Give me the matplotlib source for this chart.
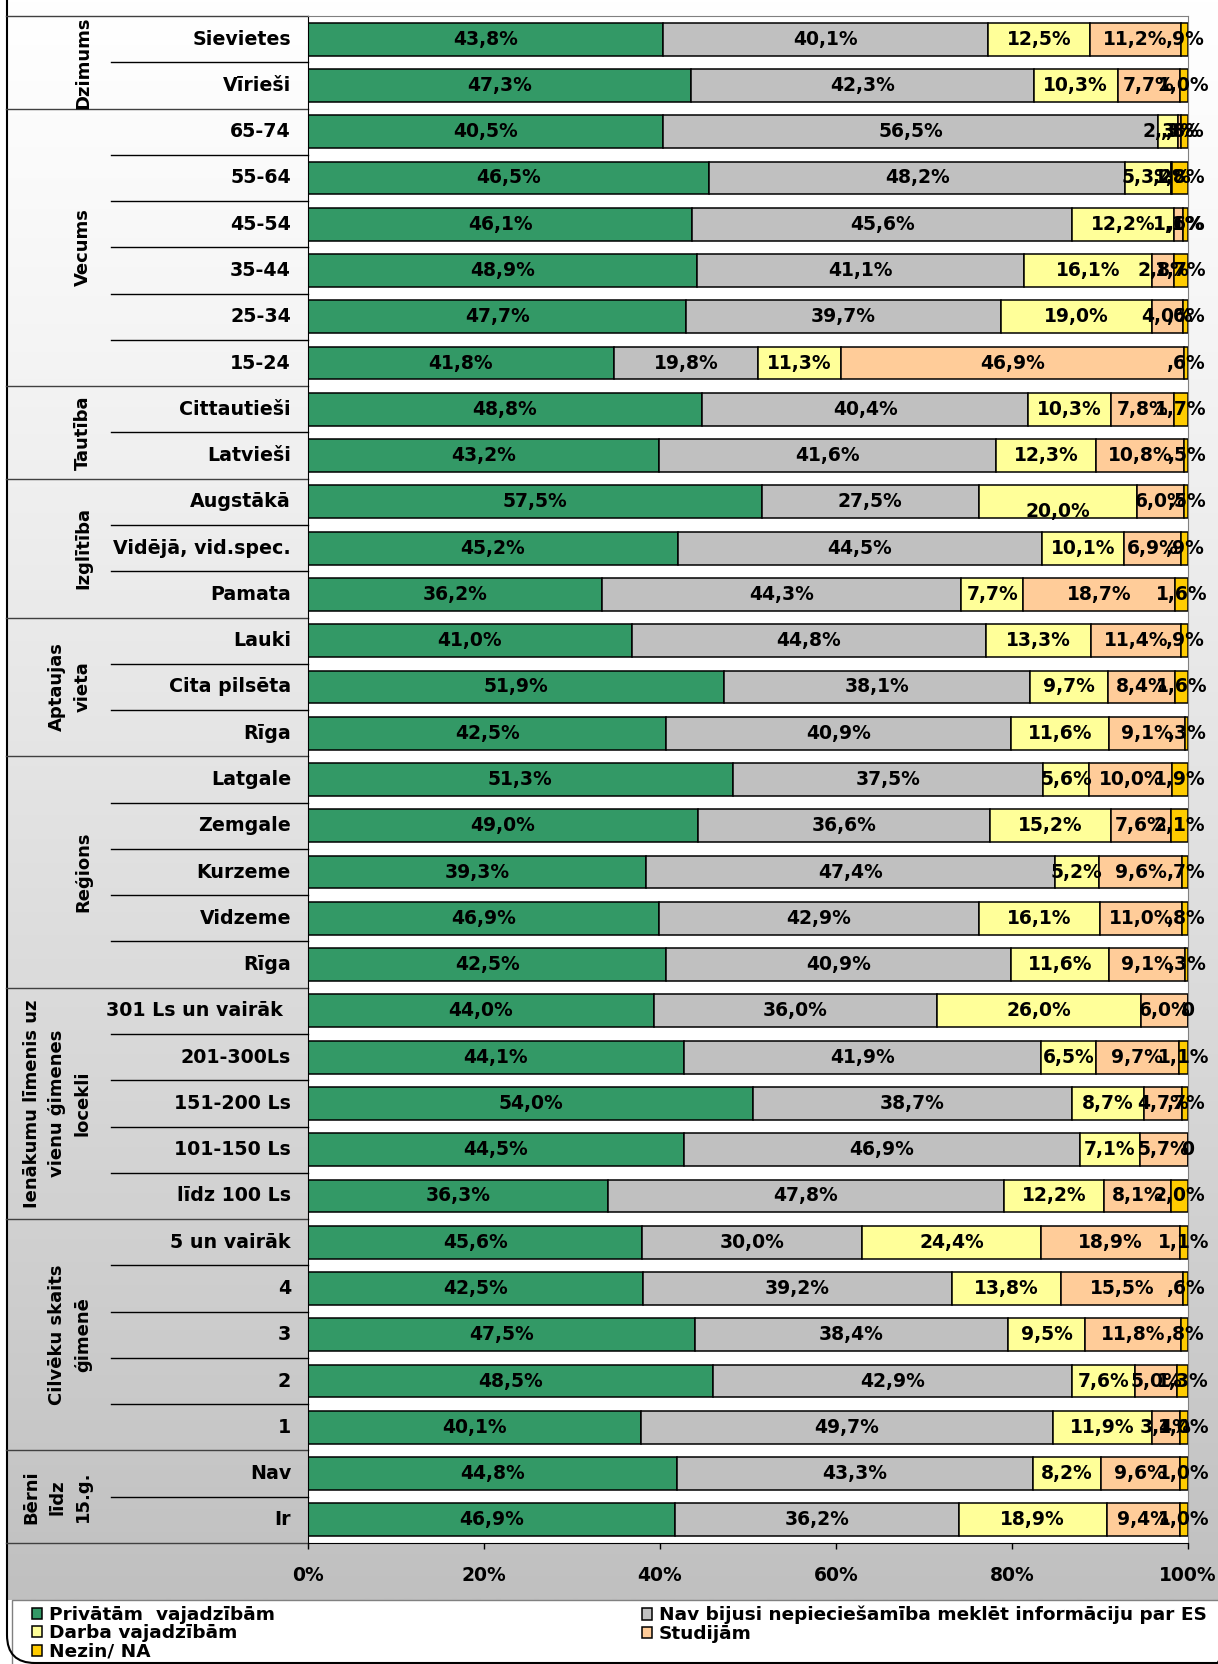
import numpy as np
import matplotlib.pyplot as plt
from matplotlib.patches import Rectangle, FancyBboxPatch
from matplotlib.transforms import blended_transform_factory

plt.rcParams['font.family'] = ['DejaVu Sans']
plt.rcParams['font.weight'] = 'bold'

# series and colours
series = ['Privātām  vajadzībām', 'Nav bijusi nepieciešamība meklēt informāciju par ES',
          'Darba vajadzībām', 'Studijām', 'Nezin/ NA']
colors = ['#339966', '#C0C0C0', '#FFFF99', '#FFCC99', '#FFCC00']

groups = ['Dzimums', 'Vecums', 'Tautība', 'Izglītība', 'Aptaujas\nvieta', 'Reģions',
          'Ienākumu līmenis uz\nvienu ģimenes\nlocekli', 'Cilvēku skaits\nģimenē', 'Bērni\nlīdz\n15.g.']
group_sizes = [2, 6, 2, 3, 3, 5, 5, 5, 2]

categories = ['Sievietes', 'Vīrieši',
              '65-74', '55-64', '45-54', '35-44', '25-34', '15-24',
              'Cittautieši', 'Latvieši',
              'Augstākā', 'Vidējā, vid.spec.', 'Pamata',
              'Lauki', 'Cita pilsēta', 'Rīga',
              'Latgale', 'Zemgale', 'Kurzeme', 'Vidzeme', 'Rīga',
              '301 Ls un vairāk', '201-300Ls', '151-200 Ls', '101-150 Ls', 'līdz 100 Ls',
              '5 un vairāk', '4', '3', '2', '1',
              'Nav', 'Ir']

privatam = [43.8, 47.3, 40.5, 46.5, 46.1, 48.9, 47.7, 41.8, 48.8, 43.2, 57.5, 45.2, 36.2,
            41.0, 51.9, 42.5, 51.3, 49.0, 39.3, 46.9, 42.5, 44.0, 44.1, 54.0, 44.5, 36.3,
            45.6, 42.5, 47.5, 48.5, 40.1, 44.8, 46.9]
nav = [40.1, 42.3, 56.5, 48.2, 45.6, 41.1, 39.7, 19.8, 40.4, 41.6, 27.5, 44.5, 44.3,
       44.8, 38.1, 40.9, 37.5, 36.6, 47.4, 42.9, 40.9, 36.0, 41.9, 38.7, 46.9, 47.8,
       30.0, 39.2, 38.4, 42.9, 49.7, 43.3, 36.2]
darba = [12.5, 10.3, 2.3, 5.3, 12.2, 16.1, 19.0, 11.3, 10.3, 12.3, 20.0, 10.1, 7.7,
         13.3, 9.7, 11.6, 5.6, 15.2, 5.2, 16.1, 11.6, 26.0, 6.5, 8.7, 7.1, 12.2,
         24.4, 13.8, 9.5, 7.6, 11.9, 8.2, 18.9]
studijam = [11.2, 7.7, 0.3, 0.2, 1.1, 2.8, 4.0, 46.9, 7.8, 10.8, 6.0, 6.9, 18.7,
            11.4, 8.4, 9.1, 10.0, 7.6, 9.6, 11.0, 9.1, 6.0, 9.7, 4.7, 5.7, 8.1,
            18.9, 15.5, 11.8, 5.0, 3.4, 9.6, 9.4]
nezin = [0.9, 1.0, 0.8, 1.8, 0.6, 1.7, 0.6, 0.6, 1.7, 0.5, 0.5, 0.9, 1.6,
         0.9, 1.6, 0.3, 1.9, 2.1, 0.7, 0.8, 0.3, 0.0, 1.1, 0.7, 0.0, 2.0,
         1.1, 0.6, 0.8, 1.3, 1.0, 1.0, 1.0]

x_ticks = [0, 20, 40, 60, 80, 100]


def fmt(v):
    if v == 0:
        return '0'
    s = '{:.1f}'.format(v).replace('.', ',')
    if s.startswith('0'):
        s = s[1:]
    return s + '%'


W, H = 1218, 1664
fig = plt.figure(figsize=(W / 100, H / 100), dpi=100)
fig.patch.set_facecolor('white')

# background in pixel coordinates
bg = fig.add_axes([0, 0, 1, 1], zorder=-1)
bg.axis('off')
t = np.linspace(0, 1, 400) ** 1.15
grad = (255 - 63 * t)[:, None] / 255.0
grad = np.repeat(grad[:, :, None], 3, axis=2)
bg.imshow(grad, extent=[7, W + 30, 1600, 0], aspect='auto', interpolation='bilinear')
bg.add_patch(Rectangle((12, 1600), W, 80, facecolor='white', edgecolor='#808080', lw=1))
bg.add_patch(FancyBboxPatch((7, -40), W + 20, 1703, boxstyle='round,pad=0,rounding_size=28',
                            facecolor='none', edgecolor='black', lw=1.5))
bg.set_xlim(0, W)
bg.set_ylim(H, 0)

# main plot
left_px, right_px, top_px, bottom_px = 308, 1188, 16, 1543
ax = fig.add_axes([left_px / W, 1 - bottom_px / H, (right_px - left_px) / W, (bottom_px - top_px) / H])
ax.set_facecolor('white')

data = np.array([privatam, nav, darba, studijam, nezin])
shares = data / data.sum(axis=0) * 100
n = len(categories)
y = np.arange(n)

handles = []
left = np.zeros(n)
label_offset = {(10, 2): 0.2}
for k in range(len(series)):
    h = ax.barh(y, shares[k], left=left, height=0.71, color=colors[k], edgecolor='black', lw=1.1)
    handles.append(h)
    for i in range(n):
        cx = left[i] + shares[k][i] / 2
        ax.text(cx, y[i] + label_offset.get((i, k), 0), fmt(data[k][i]), ha='center', va='center',
                fontsize=13.5, fontweight='bold', clip_on=False)
    left = left + shares[k]

ax.set_xlim(0, 100)
ax.set_ylim(n - 0.5, -0.5)
ax.set_yticks([])
ax.set_xticks(x_ticks)
ax.set_xticklabels(['{}%'.format(v) for v in x_ticks], fontsize=13.5, fontweight='bold')
ax.tick_params(axis='x', direction='out', length=4.5, width=1, pad=12)
for side in ['top', 'right']:
    ax.spines[side].set_color('#808080')
ax.spines['left'].set_color('black')
ax.spines['bottom'].set_color('black')

# category and group labels on the left
tr = blended_transform_factory(bg.transData, ax.transData)
for i, c in enumerate(categories):
    xr = 283 if c.startswith('301') else 291
    ax.text(xr, i, c, transform=tr, ha='right', va='center', fontsize=13.7, fontweight='bold')

start = 0
for g, s in zip(groups, group_sizes):
    ax.plot([6, left_px], [start - 0.5, start - 0.5], transform=tr, color='#404040', lw=1, clip_on=False)
    for j in range(1, s):
        ax.plot([111, left_px], [start + j - 0.5] * 2, transform=tr, color='black', lw=1, clip_on=False)
    ax.text(92, start + (s - 1) / 2, g, transform=tr, rotation=90, ha='right', va='center',
            multialignment='center', fontsize=13, fontweight='bold', linespacing=1.55)
    start += s
ax.plot([6, left_px], [n - 0.5, n - 0.5], transform=tr, color='#404040', lw=1, clip_on=False)

# legend, filled row by row
prop = {'weight': 'bold', 'size': 13.3}
kw = dict(loc='upper left', frameon=False, prop=prop, handlelength=0.55, handleheight=0.55,
          handletextpad=0.35, labelspacing=0.02, borderpad=0, borderaxespad=0)
fig.legend([handles[0], handles[2], handles[4]], [series[0], series[2], series[4]],
           bbox_to_anchor=(32 / W, 1 - 1606 / H), **kw)
fig.legend([handles[1], handles[3]], [series[1], series[3]],
           bbox_to_anchor=(642 / W, 1 - 1606 / H), **kw)

fig.savefig('out.png', dpi=100)
